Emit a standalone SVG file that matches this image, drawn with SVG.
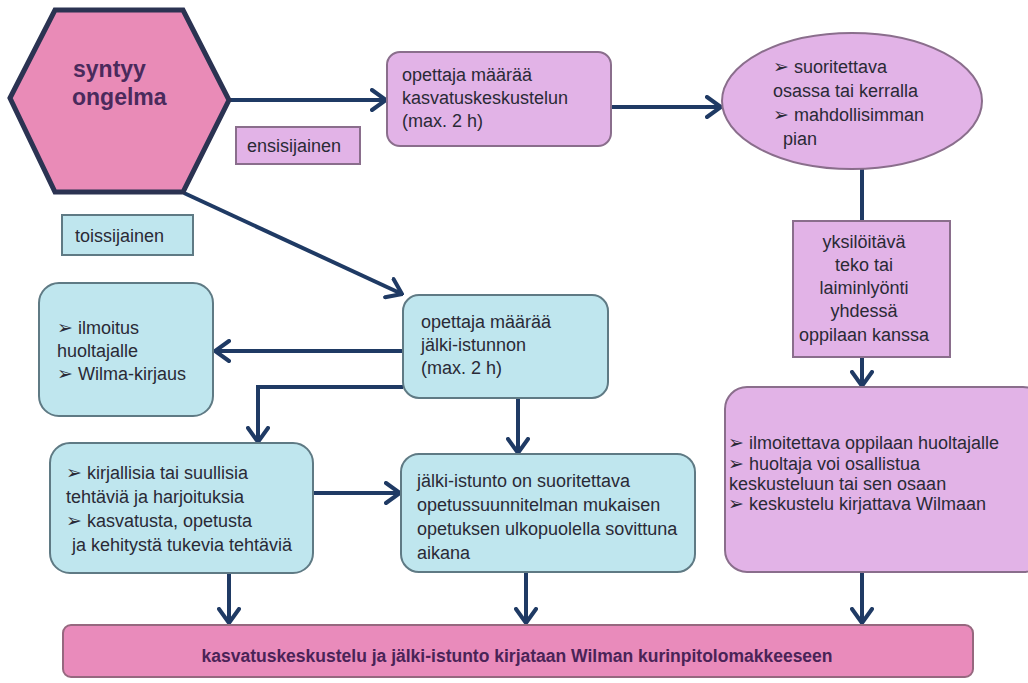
<svg xmlns="http://www.w3.org/2000/svg" width="1028" height="683" viewBox="0 0 1028 683">
<defs>
<marker id="ah" viewBox="0 0 18 24" refX="16" refY="12" markerWidth="18" markerHeight="24" markerUnits="userSpaceOnUse" orient="auto">
<path d="M2,2 L16,12 L2,22" fill="none" stroke="#1f3a64" stroke-width="4" stroke-linecap="round" stroke-linejoin="miter"/>
</marker>
<style>
.t{font-family:"Liberation Sans",Arial,sans-serif;font-size:18px;fill:#2a2a36}
.violet{fill:#e2b3e7;stroke:#8a6e8c;stroke-width:2}
.cyan{fill:#bfe6ee;stroke:#5f7a84;stroke-width:2}
.c{fill:none;stroke:#1f3a64;stroke-width:4}
.b{font-family:"DejaVu Sans",sans-serif;font-size:19px}
</style>
</defs>
<rect width="1028" height="683" fill="#ffffff"/>

<g id="connectors">
<line class="c" x1="229" y1="100" x2="386" y2="100" marker-end="url(#ah)"/>
<line class="c" x1="611" y1="107" x2="721" y2="107" marker-end="url(#ah)"/>
<line class="c" x1="862" y1="169" x2="862" y2="221"/>
<line class="c" x1="862" y1="357" x2="862" y2="386" marker-end="url(#ah)"/>
<line class="c" x1="184" y1="193" x2="402" y2="294" marker-end="url(#ah)"/>
<line class="c" x1="403" y1="351" x2="215" y2="351" marker-end="url(#ah)"/>
<polyline class="c" points="403,387 258,387 258,442" marker-end="url(#ah)"/>
<line class="c" x1="518" y1="398" x2="518" y2="453" marker-end="url(#ah)"/>
<line class="c" x1="313" y1="493" x2="400" y2="493" marker-end="url(#ah)"/>
<line class="c" x1="229" y1="574" x2="229" y2="623" marker-end="url(#ah)"/>
<line class="c" x1="526" y1="572" x2="526" y2="623" marker-end="url(#ah)"/>
<line class="c" x1="862" y1="572" x2="862" y2="623" marker-end="url(#ah)"/>
</g>

<g id="hexagon">
<polygon points="10,98 55,10 183,10 229,100 183,192 55,192" fill="#e98bb7" stroke="#2b3352" stroke-width="5" stroke-linejoin="miter"/>
<text x="73" y="77" font-family="Liberation Sans,Arial,sans-serif" font-size="23" font-weight="bold" fill="#4a2a5c">syntyy</text>
<text x="72" y="105" font-family="Liberation Sans,Arial,sans-serif" font-size="23" font-weight="bold" fill="#4a2a5c">ongelma</text>
</g>

<g id="ensisijainen">
<rect x="236" y="127" width="124" height="37" class="violet" stroke-width="1.5"/>
<text class="t" x="247" y="152">ensisijainen</text>
</g>

<g id="toissijainen">
<rect x="62" y="215" width="131" height="40" class="cyan" stroke-width="1.5"/>
<text class="t" x="75" y="242" font-size="21">toissijainen</text>
</g>

<g id="kasvatuskeskustelu">
<rect x="387" y="52" width="224" height="94" rx="13" class="violet"/>
<text class="t" x="402" y="81">opettaja määrää</text>
<text class="t" x="402" y="104">kasvatuskeskustelun</text>
<text class="t" x="402" y="127">(max. 2 h)</text>
</g>

<g id="ellipse">
<ellipse cx="852" cy="101" rx="130" ry="68" class="violet"/>
<text class="t" x="773" y="73"><tspan class="b">➢</tspan> suoritettava</text>
<text class="t" x="773" y="97">osassa tai kerralla</text>
<text class="t" x="773" y="121"><tspan class="b">➢</tspan> mahdollisimman</text>
<text class="t" x="783" y="145">pian</text>
</g>

<g id="yksiloitava">
<rect x="793" y="221" width="157" height="136" class="violet"/>
<text class="t" x="864" y="248" text-anchor="middle">yksilöitävä</text>
<text class="t" x="864" y="271" text-anchor="middle">teko tai</text>
<text class="t" x="864" y="294" text-anchor="middle">laiminlyönti</text>
<text class="t" x="864" y="317" text-anchor="middle">yhdessä</text>
<text class="t" x="864" y="341" text-anchor="middle">oppilaan kanssa</text>
</g>

<g id="ilmoitettava">
<rect x="725" y="387" width="320" height="185" rx="22" class="violet"/>
<text class="t" x="728" y="449"><tspan class="b">➢</tspan> ilmoitettava oppilaan huoltajalle</text>
<text class="t" x="728" y="470"><tspan class="b">➢</tspan> huoltaja voi osallistua</text>
<text class="t" x="729" y="490">keskusteluun tai sen osaan</text>
<text class="t" x="728" y="510"><tspan class="b">➢</tspan> keskustelu kirjattava Wilmaan</text>
</g>

<g id="jalki-istunnon">
<rect x="403" y="295" width="205" height="103" rx="16" class="cyan"/>
<text class="t" x="421" y="328">opettaja määrää</text>
<text class="t" x="421" y="351">jälki-istunnon</text>
<text class="t" x="421" y="374">(max. 2 h)</text>
</g>

<g id="ilmoitus">
<rect x="39" y="283" width="174" height="133" rx="20" class="cyan"/>
<text class="t" x="57" y="334"><tspan class="b">➢</tspan> ilmoitus</text>
<text class="t" x="57" y="357">huoltajalle</text>
<text class="t" x="57" y="380"><tspan class="b">➢</tspan> Wilma-kirjaus</text>
</g>

<g id="tehtavia">
<rect x="50" y="443" width="263" height="130" rx="20" class="cyan"/>
<text class="t" x="66" y="479"><tspan class="b">➢</tspan> kirjallisia tai suullisia</text>
<text class="t" x="66" y="503">tehtäviä ja harjoituksia</text>
<text class="t" x="66" y="527"><tspan class="b">➢</tspan> kasvatusta, opetusta</text>
<text class="t" x="72" y="551">ja kehitystä tukevia tehtäviä</text>
</g>

<g id="suoritettava">
<rect x="401" y="454" width="294" height="118" rx="18" class="cyan"/>
<text class="t" x="417" y="487">jälki-istunto on suoritettava</text>
<text class="t" x="417" y="511">opetussuunnitelman mukaisen</text>
<text class="t" x="417" y="535">opetuksen ulkopuolella sovittuna</text>
<text class="t" x="417" y="559">aikana</text>
</g>

<g id="kirjataan">
<rect x="63" y="625" width="910" height="52" rx="8" fill="#e98bbb" stroke="#96687f" stroke-width="2"/>
<text x="517" y="662" text-anchor="middle" font-family="Liberation Sans,Arial,sans-serif" font-size="17.5" font-weight="bold" fill="#4a2357">kasvatuskeskustelu ja jälki-istunto kirjataan Wilman kurinpitolomakkeeseen</text>
</g>
</svg>
